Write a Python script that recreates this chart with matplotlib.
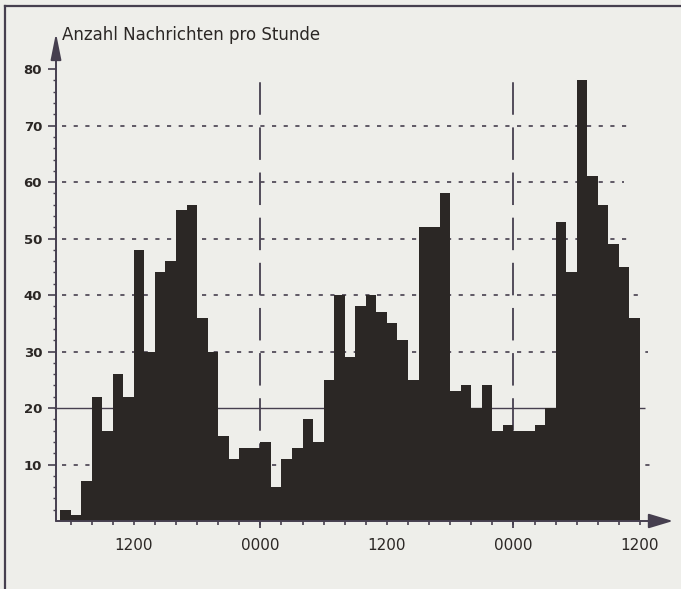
import matplotlib

matplotlib.use("Agg")
import matplotlib.pyplot as plt
from matplotlib.lines import Line2D
import numpy as np

# messages per hour, one bar per hour starting 0500 on day 1
counts = [2, 1, 7, 22, 16, 26, 22, 48, 30, 44, 46, 55, 56, 36, 30, 15, 11, 13, 13, 14,
          6, 11, 13, 18, 14, 25, 40, 29, 38, 40, 37, 35, 32, 25, 52, 52, 58, 23, 24, 20,
          24, 16, 17, 16, 16, 17, 20, 53, 44, 78, 61, 56, 49, 45, 36]
label_hours = [7, 19, 31, 43, 55]
label_texts = ["1200", "0000", "1200", "0000", "1200"]
midnights = [19, 43]
y_ticks = [10, 20, 30, 40, 50, 60, 70, 80]
grid_dashed = [10, 30, 40, 50, 60, 70]
grid_solid = 20

paper = "#eeeeea"
ink = "#2b2725"
line_col = "#463f4f"

fig = plt.figure(figsize=(6.81, 5.89), dpi=100, facecolor=paper)
ax = fig.add_axes([56 / 681, 1 - 521 / 589, (673 - 56) / 681, (521 - 33) / 589])
ax.set_facecolor(paper)
ax.set_xlim(-0.38, 58.13)
ax.set_ylim(0, 86.4)

# hourly histogram drawn as one filled step outline (no seams between bars)
edges = np.arange(len(counts) + 1)
ax.stairs(counts, edges, fill=True, color=ink, zorder=3)

# grid lines (drawn behind the bars)
grid_ends = {10: 56.3, 30: 55.8, 40: 54.8, 50: 54.3, 60: 53.5, 70: 53.8}
for level in grid_dashed:
    ax.hlines(level, 0.2, grid_ends[level], color=line_col, lw=1.2,
              linestyles=(0, (2.5, 4.5)), zorder=1)
ax.hlines(grid_solid, -0.6, 55.5, color=line_col, lw=1.0, zorder=1, clip_on=False)
for m in midnights:
    ax.vlines(m, 0, 77.7, color=line_col, lw=1.3, linestyles=(0, (18, 7)), zorder=1)
    ax.vlines(m, -1.3, 0, color=line_col, lw=1.3, zorder=4, clip_on=False)

# axes with arrows
for s in ax.spines.values():
    s.set_visible(False)
ax.annotate("", xy=(58.13, 0), xytext=(-0.38, 0), xycoords="data",
            arrowprops=dict(arrowstyle="-|>,head_length=1.5,head_width=0.45",
                            color=line_col, lw=1.4, shrinkA=0, shrinkB=0),
            annotation_clip=False, zorder=5)
ax.annotate("", xy=(-0.38, 86.4), xytext=(-0.38, 0), xycoords="data",
            arrowprops=dict(arrowstyle="-|>,head_length=1.6,head_width=0.32",
                            color=line_col, lw=1.4, shrinkA=0, shrinkB=0),
            annotation_clip=False, zorder=5)

ax.set_yticks(y_ticks)
ax.set_yticklabels([str(v) for v in y_ticks], fontsize=9.5, fontweight="bold", color=ink)
ax.set_yticks(np.arange(2, 81, 2), minor=True)
ax.tick_params(axis="y", which="major", length=6, width=1.2, color=line_col, pad=4)
ax.tick_params(axis="y", which="minor", length=2.5, width=1.0, color=line_col)

ax.set_xticks(label_hours)
ax.set_xticklabels(label_texts, fontsize=11, color=ink)
ax.set_xticks([h for h in range(1, 56, 2) if h not in label_hours], minor=True)
ax.tick_params(axis="x", which="both", length=3, width=1.2, color=line_col, pad=9)

fig.text(62 / 681, 1 - 35 / 589, "Anzahl Nachrichten pro Stunde", fontsize=12,
         color=ink, ha="left", va="center")

# page frame of the scan
fig.add_artist(Line2D([5 / 681, 1], [1 - 6 / 589] * 2, color=line_col, lw=1.6))
fig.add_artist(Line2D([5 / 681] * 2, [0, 1 - 6 / 589], color=line_col, lw=1.6))

fig.savefig("out.png", dpi=100, facecolor=paper)
